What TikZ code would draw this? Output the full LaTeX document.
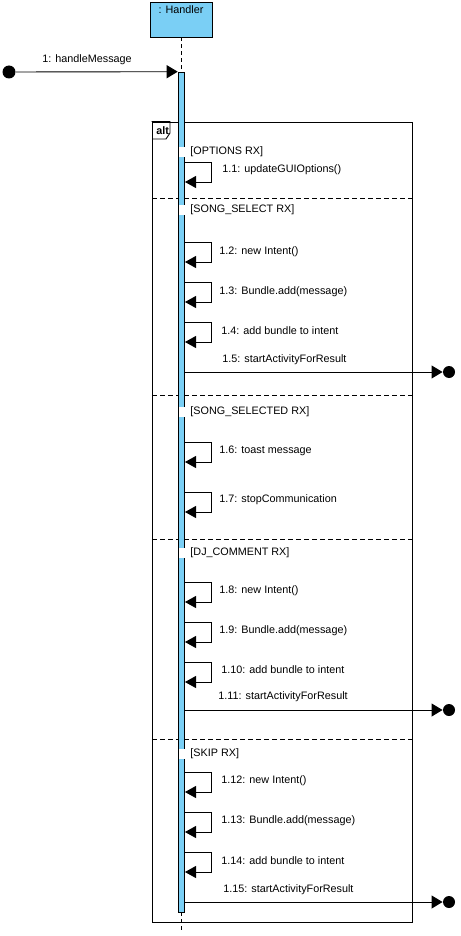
\documentclass[tikz,border=0pt]{standalone}
\usepackage{fontspec}
\setmainfont{Liberation Sans}
\usepackage{xcolor}
\usetikzlibrary{positioning, arrows.meta}
\definecolor{lifeblue}{RGB}{122,207,245}

\begin{document}
\begin{tikzpicture}[x=1pt, y=-1pt, line width=0.9pt,
  every node/.style={font=\fontsize{10.8}{12}\selectfont},
  lbl/.style={anchor=west, inner sep=0pt},
  guard/.style={anchor=west, fill=white, inner xsep=11pt, inner ysep=0pt},
  selfmsg/.style={-{Triangle[length=11pt, width=12pt]}},
  msg/.style={-{Triangle[length=11pt, width=13pt]}},
  dot/.style={circle, fill=black, inner sep=0pt, minimum size=12pt},
  sep/.style={dash pattern=on 5pt off 3pt},
  life/.style={dash pattern=on 4pt off 3pt}]
  \useasboundingbox (0,0) rectangle (460,936);

  % Frame
  \node[draw, minimum width=260pt, minimum height=800pt, inner sep=0pt] (alt) at (282,522) {};
  \draw (alt.north west) -| (170,133) -- (166,139) -- (152,139);
  \node[lbl, font=\fontsize{10.8}{12}\selectfont\bfseries] (altlbl) at (156,131) {alt};
  \draw[sep] (152,198) -- (412,198);
  \draw[sep] (152,395) -- (412,395);
  \draw[sep] (152,539) -- (412,539);
  \draw[sep] (152,739) -- (412,739);

  % Lifeline
  \node[draw, fill=lifeblue, minimum width=62pt, text height=10pt, text depth=21pt, inner xsep=0pt, inner ysep=2pt] (handler) at (181,19.5) {: Handler};
  \coordinate (lend) at (181,930);
  \draw[life] (handler.south) -- (lend);
  \node[draw, fill=lifeblue, minimum width=6pt, minimum height=840pt, inner sep=0pt, line width=0.6pt] (act) at (181,492) {};

  % Guards
  \node[guard] (g1) at (179,152) {[OPTIONS RX]};
  \node[guard] (g2) at (179,210) {[SONG\_SELECT RX]};
  \node[guard] (g3) at (179,412) {[SONG\_SELECTED RX]};
  \node[guard] (g4) at (179,553) {[DJ\_COMMENT RX]};
  \node[guard] (g5) at (179,754) {[SKIP RX]};

  % Found message
  \node[dot, minimum size=13pt] (start) at (9,72) {};
  \draw[msg] (start) -- (act.north west);
  \node[lbl] (l1) at (42,60) {1: handleMessage};

  % Self messages
  \coordinate (m1a) at (185,162); \coordinate (m1b) at (185,182);
  \draw[selfmsg] (m1a) -- ++(26,0) |- (m1b);
  \node[lbl] (l11) at (222,170) {1.1: updateGUIOptions()};

  \coordinate (m2a) at (185,242); \coordinate (m2b) at (185,262);
  \draw[selfmsg] (m2a) -- ++(26,0) |- (m2b);
  \node[lbl] (l12) at (219,252) {1.2: new Intent()};

  \coordinate (m3a) at (185,282); \coordinate (m3b) at (185,302);
  \draw[selfmsg] (m3a) -- ++(26,0) |- (m3b);
  \node[lbl] (l13) at (219,292) {1.3: Bundle.add(message)};

  \coordinate (m4a) at (185,322); \coordinate (m4b) at (185,342);
  \draw[selfmsg] (m4a) -- ++(26,0) |- (m4b);
  \node[lbl] (l14) at (221,331) {1.4: add bundle to intent};

  \coordinate (m5) at (185,372);
  \node[dot] (e5) at (449,372) {};
  \draw[msg] (m5) -- (e5);
  \node[lbl] (l15) at (222,360) {1.5: startActivityForResult};

  \coordinate (m6a) at (185,442); \coordinate (m6b) at (185,462);
  \draw[selfmsg] (m6a) -- ++(26,0) |- (m6b);
  \node[lbl] (l16) at (219,451) {1.6: toast message};

  \coordinate (m7a) at (185,492); \coordinate (m7b) at (185,512);
  \draw[selfmsg] (m7a) -- ++(26,0) |- (m7b);
  \node[lbl] (l17) at (219,500) {1.7: stopCommunication};

  \coordinate (m8a) at (185,582); \coordinate (m8b) at (185,602);
  \draw[selfmsg] (m8a) -- ++(26,0) |- (m8b);
  \node[lbl] (l18) at (219,591) {1.8: new Intent()};

  \coordinate (m9a) at (185,622); \coordinate (m9b) at (185,642);
  \draw[selfmsg] (m9a) -- ++(26,0) |- (m9b);
  \node[lbl] (l19) at (219,631) {1.9: Bundle.add(message)};

  \coordinate (m10a) at (185,662); \coordinate (m10b) at (185,682);
  \draw[selfmsg] (m10a) -- ++(26,0) |- (m10b);
  \node[lbl] (l110) at (221,670) {1.10: add bundle to intent};

  \coordinate (m11) at (185,710);
  \node[dot] (e11) at (449,710) {};
  \draw[msg] (m11) -- (e11);
  \node[lbl] (l111) at (218,697) {1.11: startActivityForResult};

  \coordinate (m12a) at (185,772); \coordinate (m12b) at (185,792);
  \draw[selfmsg] (m12a) -- ++(26,0) |- (m12b);
  \node[lbl] (l112) at (221,781) {1.12: new Intent()};

  \coordinate (m13a) at (185,812); \coordinate (m13b) at (185,832);
  \draw[selfmsg] (m13a) -- ++(26,0) |- (m13b);
  \node[lbl] (l113) at (221,821) {1.13: Bundle.add(message)};

  \coordinate (m14a) at (185,852); \coordinate (m14b) at (185,872);
  \draw[selfmsg] (m14a) -- ++(26,0) |- (m14b);
  \node[lbl] (l114) at (221,861) {1.14: add bundle to intent};

  \coordinate (m15) at (185,902);
  \node[dot] (e15) at (449,902) {};
  \draw[msg] (m15) -- (e15);
  \node[lbl] (l115) at (223,890) {1.15: startActivityForResult};
\end{tikzpicture}
\end{document}
